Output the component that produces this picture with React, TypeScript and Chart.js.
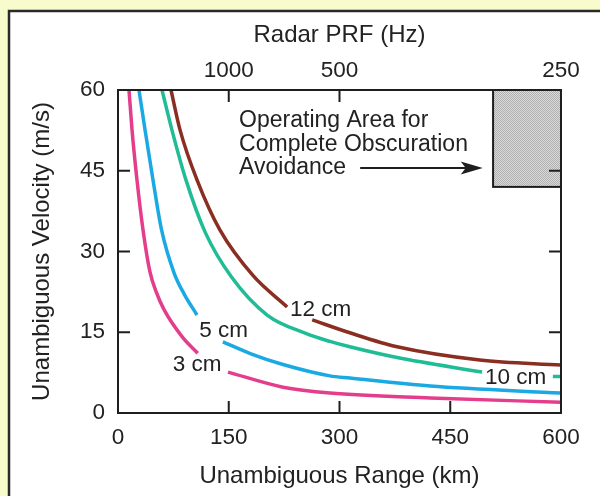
import React, { useEffect, useRef } from 'react';
import { Chart, registerables } from 'chart.js';

Chart.register(...registerables);

const W = 600;
const H = 496;
const FONT = '"Liberation Sans", Arial, Helvetica, sans-serif';

// Axis ticks
const rangeTicksKm = [0, 150, 300, 450, 600];
const prfTickKm = [150, 300, 600];
const prfLabels = ['1000', '500', '250'];
const velocityTicks = [0, 15, 30, 45, 60];
const innerTicksBottom = [150, 300, 450];
const innerTicksTop = [150, 300];
const innerTicksSide = [15, 30, 45];

// Curves (range km, velocity m/s); null marks the gap where the label sits
const cm3Range = [14.9, 19, 25.7, 33.9, 43.3, 52, 62, 86.7, 108, 128, 149, 223.5, 287, 423, 600];
const cm3Vel = [60, 52.6, 43.3, 34, 26.2, 22.4, 19.3, 14.2, 11.1, null, 7.6, 4.8, 3.7, 2.8, 2.0];

const cm5Range = [28.4, 36.6, 47.4, 59, 76, 90, 107, 125, 142, 180, 223.5, 287, 314, 423, 600];
const cm5Vel = [60, 52.6, 43.3, 34, 26, 22, 18.2, null, 13.2, 11.0, 9.0, 6.9, 6.5, 5.0, 3.7];

const cm10Range = [59.6, 73, 92, 118, 154, 202, 256, 287, 314, 378, 493, 540, 589, 600];
const cm10Vel = [60, 52.6, 43.3, 33.6, 25.2, 18.2, 14.7, 13.3, 12.3, 10.3, 7.6, null, 6.8, 6.8];

const cm12Range = [71.8, 84, 107, 138, 183, 229, 246, 263, 314, 378, 490, 600];
const cm12Vel = [60, 52.6, 43.3, 34, 25.5, 19.7, null, 17.3, 14.9, 12.3, 9.85, 8.9];

const curveNames = ['3 cm', '5 cm', '10 cm', '12 cm'];
const curveColors = ['#e43d8c', '#1aa9e2', '#1fbc95', '#8b2e22'];
// label anchors (km, m/s)
const labelRange = [74, 110, 497, 233];
const labelVel = [8.9, 15.2, 6.5, 19.1];

// Operating area box
const avoidRange = [508, 600];
const avoidVel = [42, 60];

// Annotation text
const noteLines = ['Operating Area for', 'Complete Obscuration', 'Avoidance'];
const noteRange = 164;
const noteVel = 53.1;
const arrowRange = [328, 494];
const arrowVel = 45.5;

const toPts = (xs: number[], ys: (number | null)[]) => xs.map((x, i) => ({ x, y: ys[i] }));

const makePattern = (ctx: CanvasRenderingContext2D) => {
  const c = document.createElement('canvas');
  c.width = 2;
  c.height = 2;
  const p = c.getContext('2d')!;
  p.fillStyle = '#dadada';
  p.fillRect(0, 0, 2, 2);
  p.fillStyle = '#b0b0b0';
  p.fillRect(0, 0, 1, 1);
  p.fillRect(1, 1, 1, 1);
  return ctx.createPattern(c, 'repeat');
};

const decor = {
  id: 'decor',
  beforeDraw(chart: any) {
    const ctx = chart.ctx as CanvasRenderingContext2D;
    ctx.save();
    ctx.fillStyle = '#f8fbcb';
    ctx.fillRect(0, 0, W, H);
    ctx.fillStyle = '#ffffff';
    ctx.fillRect(9, 11, W, H);
    ctx.strokeStyle = '#2a2a2a';
    ctx.lineWidth = 2.5;
    ctx.beginPath();
    ctx.moveTo(9, H + 5);
    ctx.lineTo(9, 11);
    ctx.lineTo(W + 5, 11);
    ctx.stroke();
    ctx.restore();
  },
  afterDatasetsDraw(chart: any) {
    const ctx = chart.ctx as CanvasRenderingContext2D;
    const xs = chart.scales.x;
    const ys = chart.scales.y;
    const a = chart.chartArea;
    ctx.save();

    // avoidance box
    const bx0 = xs.getPixelForValue(avoidRange[0]);
    const bx1 = xs.getPixelForValue(avoidRange[1]);
    const by0 = ys.getPixelForValue(avoidVel[1]);
    const by1 = ys.getPixelForValue(avoidVel[0]);
    ctx.fillStyle = makePattern(ctx) || '#c4c4c4';
    ctx.fillRect(bx0, by0, bx1 - bx0, by1 - by0);
    ctx.strokeStyle = '#1e1e1e';
    ctx.lineWidth = 2;
    ctx.strokeRect(bx0, by0, bx1 - bx0, by1 - by0);

    // frame
    ctx.strokeStyle = '#1e1e1e';
    ctx.lineWidth = 2;
    ctx.strokeRect(a.left, a.top, a.right - a.left, a.bottom - a.top);

    // inward ticks
    const TL = 12;
    ctx.beginPath();
    innerTicksBottom.forEach((v) => {
      const px = xs.getPixelForValue(v);
      ctx.moveTo(px, a.bottom);
      ctx.lineTo(px, a.bottom - TL);
    });
    innerTicksTop.forEach((v) => {
      const px = xs.getPixelForValue(v);
      ctx.moveTo(px, a.top);
      ctx.lineTo(px, a.top + TL);
    });
    innerTicksSide.forEach((v) => {
      const py = ys.getPixelForValue(v);
      ctx.moveTo(a.left, py);
      ctx.lineTo(a.left + TL, py);
      ctx.moveTo(a.right, py);
      ctx.lineTo(a.right - TL, py);
    });
    ctx.stroke();

    // curve labels
    ctx.fillStyle = '#222';
    ctx.font = `22.5px ${FONT}`;
    ctx.textAlign = 'left';
    ctx.textBaseline = 'middle';
    curveNames.forEach((n, i) => {
      ctx.fillText(n, xs.getPixelForValue(labelRange[i]), ys.getPixelForValue(labelVel[i]));
    });

    // annotation
    ctx.font = `23px ${FONT}`;
    ctx.textBaseline = 'alphabetic';
    const tx = xs.getPixelForValue(noteRange);
    const ty = ys.getPixelForValue(noteVel);
    noteLines.forEach((t, i) => ctx.fillText(t, tx, ty + i * 23.5));

    // arrow
    const ax0 = xs.getPixelForValue(arrowRange[0]);
    const ax1 = xs.getPixelForValue(arrowRange[1]);
    const ay = ys.getPixelForValue(arrowVel);
    ctx.strokeStyle = '#1e1e1e';
    ctx.lineWidth = 2;
    ctx.beginPath();
    ctx.moveTo(ax0, ay);
    ctx.lineTo(ax1 - 15, ay);
    ctx.stroke();
    ctx.fillStyle = '#1e1e1e';
    ctx.beginPath();
    ctx.moveTo(ax1, ay);
    ctx.lineTo(ax1 - 22, ay - 6.5);
    ctx.lineTo(ax1 - 17, ay);
    ctx.lineTo(ax1 - 22, ay + 6.5);
    ctx.closePath();
    ctx.fill();

    ctx.restore();
  },
};

export default function App() {
  const ref = useRef<HTMLCanvasElement>(null);

  useEffect(() => {
    if (!ref.current) return;
    const tickFont = { family: FONT, size: 22.5, lineHeight: 1.2 };
    const titleFont = { family: FONT, size: 24, lineHeight: 1.2 };
    const series = [
      [cm3Range, cm3Vel],
      [cm5Range, cm5Vel],
      [cm10Range, cm10Vel],
      [cm12Range, cm12Vel],
    ];
    const noGrid = { display: false, drawTicks: false, tickLength: 0 };
    const chart = new Chart(ref.current, {
      type: 'line',
      data: {
        datasets: series.map(([xs, ys], i) => ({
          label: curveNames[i],
          data: toPts(xs as number[], ys as (number | null)[]),
          borderColor: curveColors[i],
          backgroundColor: curveColors[i],
          borderWidth: 3.5,
          pointRadius: 0,
          cubicInterpolationMode: 'monotone' as const,
          spanGaps: false,
          xAxisID: 'x',
          yAxisID: 'y',
        })),
      },
      options: {
        responsive: false,
        animation: false,
        devicePixelRatio: 1,
        layout: { padding: { left: 0, right: 39, top: 0, bottom: 0 } },
        plugins: { legend: { display: false }, tooltip: { enabled: false } },
        scales: {
          x: {
            type: 'linear',
            position: 'bottom',
            min: 0,
            max: 600,
            grid: noGrid,
            border: { display: false },
            afterBuildTicks: (s: any) => {
              s.ticks = rangeTicksKm.map((v) => ({ value: v }));
            },
            afterFit: (s: any) => {
              s.height = 83;
            },
            ticks: { autoSkip: false, maxRotation: 0, padding: 11.5, color: '#222', font: tickFont },
            title: {
              display: true,
              text: 'Unambiguous Range (km)',
              color: '#222',
              font: titleFont,
              padding: { top: 0, bottom: 5 },
            },
          },
          x2: {
            type: 'linear',
            position: 'top',
            min: 0,
            max: 600,
            grid: noGrid,
            border: { display: false },
            afterBuildTicks: (s: any) => {
              s.ticks = prfTickKm.map((v) => ({ value: v }));
            },
            afterFit: (s: any) => {
              s.height = 90;
            },
            ticks: {
              autoSkip: false,
              maxRotation: 0,
              padding: 5.5,
              color: '#222',
              font: tickFont,
              callback: (v: any) => prfLabels[prfTickKm.indexOf(Number(v))],
            },
            title: {
              display: true,
              text: 'Radar PRF (Hz)',
              color: '#222',
              font: titleFont,
              padding: { top: 21, bottom: 0 },
            },
          },
          y: {
            type: 'linear',
            position: 'left',
            min: 0,
            max: 60,
            grid: noGrid,
            border: { display: false },
            afterBuildTicks: (s: any) => {
              s.ticks = velocityTicks.map((v) => ({ value: v }));
            },
            afterFit: (s: any) => {
              s.width = 118;
            },
            ticks: { autoSkip: false, padding: 13, color: '#222', font: tickFont },
            title: {
              display: true,
              text: 'Unambiguous Velocity (m/s)',
              color: '#222',
              font: titleFont,
              padding: { top: 28, bottom: 0 },
            },
          },
        },
      },
      plugins: [decor],
    } as any);
    return () => chart.destroy();
  }, []);

  return (
    <div style={{ position: 'fixed', left: 0, top: 0, width: W, height: H }}>
      <canvas ref={ref} width={W} height={H} style={{ display: 'block', width: W, height: H }} />
    </div>
  );
}
